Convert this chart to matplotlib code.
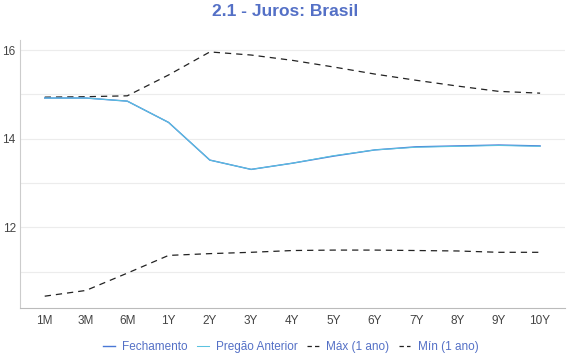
import numpy as np
import matplotlib
matplotlib.use("Agg")
import matplotlib.pyplot as plt

plt.rcParams['font.family'] = ['Liberation Sans', 'DejaVu Sans']

tenors = ["1M", "3M", "6M", "1Y", "2Y", "3Y", "4Y", "5Y", "6Y", "7Y", "8Y", "9Y", "10Y"]
fechamento = [14.92, 14.92, 14.85, 14.37, 13.52, 13.31, 13.45, 13.61, 13.75, 13.82, 13.84, 13.86, 13.84]
pregao_anterior = [14.92, 14.92, 14.85, 14.37, 13.52, 13.31, 13.45, 13.62, 13.75, 13.81, 13.83, 13.85, 13.83]
maximo = [14.94, 14.95, 14.97, 15.44, 15.96, 15.89, 15.77, 15.62, 15.46, 15.32, 15.19, 15.07, 15.03]
minimo = [10.45, 10.58, 10.97, 11.37, 11.41, 11.44, 11.48, 11.49, 11.49, 11.48, 11.47, 11.44, 11.44]

title_color = "#5470c6"
x = np.arange(len(tenors))

fig = plt.figure(figsize=(5.7, 3.6), dpi=100)
ax = fig.add_axes([0.035, 0.144, 0.956, 0.745])

ax.plot(x, fechamento, color="#4a78d6", lw=1.0, label="Fechamento", zorder=3)
ax.plot(x, pregao_anterior, color="#5bc3e0", lw=0.75, label="Pregão Anterior", zorder=4)
ax.plot(x, maximo, color="#222222", lw=0.9, ls=(0, (5, 4)), label="Máx (1 ano)", zorder=2)
ax.plot(x, minimo, color="#222222", lw=0.9, ls=(0, (5, 4)), label="Mín (1 ano)", zorder=2)

ax.set_xlim(-0.6, len(tenors) - 0.4)
ax.set_ylim(10.18, 16.23)
ax.set_xticks(x)
ax.set_xticklabels(tenors)
ax.set_yticks([12, 14, 16])
ax.set_yticks([11, 13, 15], minor=True)
ax.grid(axis='y', which='both', color="#ececec", lw=0.8)
ax.set_axisbelow(True)
ax.tick_params(axis='both', which='both', length=0, labelsize=8.5, labelcolor="#444444")
ax.tick_params(axis='x', pad=5)
ax.tick_params(axis='y', pad=3)
for s in ["top", "right"]:
    ax.spines[s].set_visible(False)
ax.spines["left"].set_color("#cccccc")
ax.spines["bottom"].set_color("#bbbbbb")

fig.suptitle("2.1 - Juros: Brasil", x=0.5, y=0.99, fontsize=12.5, fontweight='bold', color=title_color)

leg = fig.legend(loc='lower center', bbox_to_anchor=(0.51, -0.01), ncol=4, frameon=False,
                 fontsize=8.5, handlelength=1.0, handletextpad=0.6, columnspacing=0.8)
for t in leg.get_texts():
    t.set_color(title_color)
for ln in leg.get_lines()[2:]:
    ln.set_linestyle((0, (3.5, 2.5)))

fig.savefig("out.png", dpi=100)
